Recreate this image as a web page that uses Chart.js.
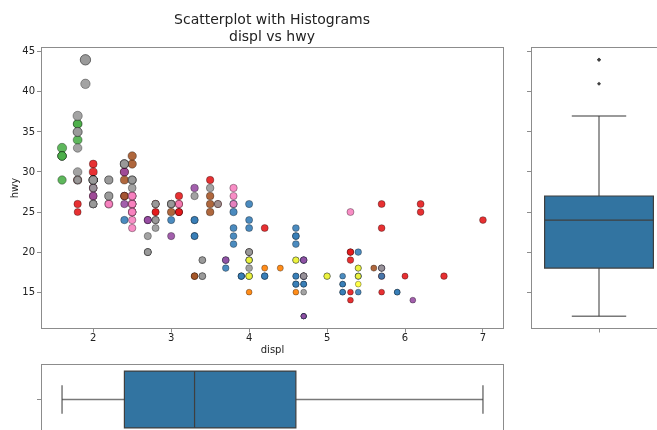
<!DOCTYPE html>
<html>
<head>
<meta charset="utf-8">
<script src="https://cdn.jsdelivr.net/npm/chart.js@4.4.1/dist/chart.umd.min.js"></script>
<style>
  html, body { margin: 0; padding: 0; background: #fff; width: 657px; height: 430px; overflow: hidden; }
  canvas { position: absolute; }
  #main { left: 0; top: 0; }
  #right { left: 500px; top: 0; }
  #bottom { left: 0; top: 340px; }
</style>
</head>
<body>
<canvas id="main" width="544" height="430"></canvas>
<canvas id="right" width="200" height="430"></canvas>
<canvas id="bottom" width="544" height="120"></canvas>
<script>
// mpg data, in file order, grouped by manufacturer
var MANUFACTURERS = ['audi', 'chevrolet', 'dodge', 'ford', 'honda', 'hyundai', 'jeep', 'land rover',
  'lincoln', 'mercury', 'nissan', 'pontiac', 'subaru', 'toyota', 'volkswagen'];
var ROWS_PER_MANUFACTURER = [18, 19, 37, 25, 9, 14, 8, 4, 3, 4, 13, 5, 14, 34, 27];

var DISPL = [
  1.8, 1.8, 2.0, 2.0, 2.8, 2.8, 3.1, 1.8, 1.8, 2.0, 2.0, 2.8, 2.8, 3.1, 3.1, 2.8, 3.1, 4.2,
  5.3, 5.3, 5.3, 5.7, 6.0, 5.7, 5.7, 6.2, 6.2, 7.0, 5.3, 5.3, 5.7, 6.5, 2.4, 2.4, 3.1, 3.5, 3.6,
  2.4, 3.0, 3.3, 3.3, 3.3, 3.3, 3.3, 3.8, 3.8, 3.8, 4.0, 3.7, 3.7, 3.9, 3.9, 4.7, 4.7, 4.7, 5.2, 5.2,
  3.9, 4.7, 4.7, 4.7, 5.2, 5.7, 5.9, 4.7, 4.7, 4.7, 4.7, 4.7, 4.7, 5.2, 5.2, 5.7, 5.9,
  4.6, 5.4, 5.4, 4.0, 4.0, 4.0, 4.0, 4.6, 5.0, 4.2, 4.2, 4.6, 4.6, 4.6, 5.4, 5.4,
  3.8, 3.8, 4.0, 4.0, 4.6, 4.6, 4.6, 4.6, 5.4,
  1.6, 1.6, 1.6, 1.6, 1.6, 1.8, 1.8, 1.8, 2.0,
  2.4, 2.4, 2.4, 2.4, 2.5, 2.5, 3.3, 2.0, 2.0, 2.0, 2.0, 2.7, 2.7, 2.7,
  3.0, 3.7, 4.0, 4.7, 4.7, 4.7, 5.7, 6.1,
  4.0, 4.2, 4.4, 4.6,
  5.4, 5.4, 5.4,
  4.0, 4.0, 4.6, 5.0,
  2.4, 2.4, 2.5, 2.5, 3.5, 3.5, 3.0, 3.0, 3.5, 3.3, 3.3, 4.0, 5.6,
  3.1, 3.8, 3.8, 3.8, 5.3,
  2.5, 2.5, 2.5, 2.5, 2.5, 2.5, 2.2, 2.2, 2.5, 2.5, 2.5, 2.5, 2.5, 2.5,
  2.7, 2.7, 3.4, 3.4, 4.0, 4.7, 2.2, 2.2, 2.4, 2.4, 3.0, 3.0, 3.5, 2.2, 2.2, 2.4, 2.4, 3.0, 3.0, 3.3,
  1.8, 1.8, 1.8, 1.8, 1.8, 4.7, 5.7, 2.7, 2.7, 2.7, 3.4, 3.4, 4.0, 4.0,
  2.0, 2.0, 2.0, 2.0, 2.8, 1.9, 2.0, 2.0, 2.0, 2.0, 2.5, 2.5, 2.8, 2.8,
  1.9, 1.9, 2.0, 2.0, 2.5, 2.5, 1.8, 1.8, 2.0, 2.0, 2.8, 2.8, 3.6
];

var HWY = [
  29, 29, 31, 30, 26, 26, 27, 26, 25, 28, 27, 25, 25, 25, 25, 24, 25, 23,
  20, 15, 20, 17, 17, 26, 23, 26, 25, 24, 19, 14, 15, 17, 27, 30, 26, 29, 26,
  24, 24, 22, 22, 24, 24, 17, 22, 21, 23, 23, 19, 18, 17, 17, 19, 19, 12, 17, 15,
  17, 17, 12, 17, 16, 18, 15, 16, 12, 17, 17, 16, 12, 15, 16, 17, 15,
  17, 17, 18, 17, 19, 17, 19, 19, 17, 17, 17, 16, 16, 17, 15, 17,
  26, 25, 26, 24, 21, 22, 23, 22, 20,
  33, 32, 32, 29, 32, 34, 36, 36, 29,
  26, 27, 30, 31, 26, 26, 28, 26, 29, 28, 27, 24, 24, 24,
  22, 19, 20, 17, 12, 19, 18, 14,
  15, 18, 18, 15,
  17, 16, 18,
  17, 19, 19, 17,
  29, 27, 31, 32, 27, 26, 26, 25, 25, 17, 17, 20, 18,
  26, 26, 27, 28, 25,
  25, 24, 27, 25, 26, 23, 26, 26, 26, 26, 25, 27, 25, 27,
  20, 20, 19, 17, 20, 17, 29, 27, 31, 31, 26, 26, 28, 27, 29, 31, 31, 26, 26, 27,
  30, 33, 35, 37, 35, 15, 18, 20, 20, 22, 17, 19, 18, 20,
  29, 26, 29, 29, 24, 44, 29, 26, 29, 29, 29, 29, 23, 24,
  44, 41, 29, 26, 28, 29, 29, 29, 28, 29, 26, 26, 26
];

// city mileage, used for marker size
var CTY = [
  18, 21, 20, 21, 16, 18, 18, 18, 16, 20, 19, 15, 17, 17, 15, 15, 17, 16,
  14, 11, 14, 13, 12, 16, 15, 16, 15, 15, 14, 11, 11, 14, 19, 22, 18, 18, 17,
  18, 17, 16, 16, 17, 17, 11, 15, 15, 16, 16, 15, 14, 13, 14, 14, 14, 9, 11, 11,
  13, 13, 9, 13, 11, 13, 11, 12, 9, 13, 13, 12, 9, 11, 11, 13, 11,
  11, 11, 12, 14, 15, 14, 13, 13, 13, 14, 14, 13, 13, 13, 11, 13,
  18, 18, 17, 16, 15, 15, 15, 15, 14,
  28, 24, 25, 23, 24, 26, 25, 24, 21,
  18, 18, 21, 21, 18, 18, 19, 19, 19, 20, 20, 17, 16, 17,
  17, 15, 15, 14, 9, 14, 13, 11,
  11, 12, 12, 11,
  11, 11, 12,
  14, 13, 13, 13,
  21, 19, 23, 23, 19, 19, 18, 19, 19, 14, 15, 14, 12,
  18, 16, 17, 18, 16,
  18, 18, 20, 19, 20, 18, 21, 19, 19, 19, 20, 20, 19, 20,
  15, 16, 15, 15, 16, 14, 21, 21, 21, 21, 18, 18, 19, 21, 21, 21, 22, 18, 18, 18,
  24, 24, 26, 28, 26, 11, 13, 15, 16, 17, 15, 15, 15, 16,
  21, 19, 21, 22, 17, 33, 21, 19, 22, 21, 21, 21, 16, 17,
  35, 29, 21, 19, 20, 20, 21, 18, 19, 21, 16, 18, 17
];

var X_TICKS = [2, 3, 4, 5, 6, 7];
var Y_TICKS = [15, 20, 25, 30, 35, 40, 45];
var X_LIMITS = [1.33, 7.27];
var Y_LIMITS = [10.4, 45.6];

// matplotlib Set1, indexed by category code / (n - 1)
var SET1 = ['#e41a1c', '#377eb8', '#4daf4a', '#984ea3', '#ff7f00', '#ffff33', '#a65628', '#f781bf', '#999999'];
var EDGE = '#8c8c8c';
var TEXT = '#222222';
var BOX_FILL = '#3274a1';
var BOX_LINE = '#3f3f3f';

Chart.defaults.font.family = 'DejaVu Sans';
Chart.defaults.color = TEXT;

var codes = [];
ROWS_PER_MANUFACTURER.forEach(function (n, code) {
  for (var i = 0; i < n; i++) codes.push(code);
});
var pointColors = codes.map(function (c) {
  var idx = Math.min(SET1.length - 1, Math.floor(c / (MANUFACTURERS.length - 1) * SET1.length));
  return SET1[idx] + 'e6';
});
var pointRadii = CTY.map(function (c) { return 0.88 * Math.sqrt(c); });
var points = DISPL.map(function (x, i) { return { x: x, y: HWY[i] }; });

function fixedSize(px) {
  return function (scale) {
    if (scale.isHorizontal()) scale.height = px; else scale.width = px;
  };
}
function setTicks(values) {
  return function (scale) { scale.ticks = values.map(function (v) { return { value: v }; }); };
}
function blank() { return ''; }

var framePlugin = {
  id: 'frame',
  afterDatasetsDraw: function (chart) {
    var a = chart.chartArea, ctx = chart.ctx;
    ctx.save();
    ctx.strokeStyle = EDGE;
    ctx.lineWidth = 1;
    ctx.strokeRect(Math.round(a.left) + 0.5, Math.round(a.top) + 0.5,
      Math.round(a.right - a.left) - 1, Math.round(a.bottom - a.top) - 1);
    ctx.restore();
  }
};

function quantile(sorted, p) {
  var pos = (sorted.length - 1) * p, lo = Math.floor(pos), hi = Math.ceil(pos);
  return sorted[lo] + (sorted[hi] - sorted[lo]) * (pos - lo);
}
function boxStats(values) {
  var s = values.slice().sort(function (a, b) { return a - b; });
  var q1 = quantile(s, 0.25), med = quantile(s, 0.5), q3 = quantile(s, 0.75), iqr = q3 - q1;
  var loF = q1 - 1.5 * iqr, hiF = q3 + 1.5 * iqr;
  var inside = s.filter(function (v) { return v >= loF && v <= hiF; });
  return {
    q1: q1, med: med, q3: q3, lo: inside[0], hi: inside[inside.length - 1],
    out: s.filter(function (v) { return v < loF || v > hiF; })
  };
}

// seaborn-style box: box spans 0.8 of the category, caps half of that
function boxPlugin(stats, vertical) {
  return {
    id: 'box',
    beforeDatasetsDraw: function (chart) {
      var ctx = chart.ctx;
      var vs = chart.scales[vertical ? 'y' : 'x'];
      var cs = chart.scales[vertical ? 'x' : 'y'];
      function P(v, c) {
        return vertical ? [cs.getPixelForValue(c), vs.getPixelForValue(v)]
                        : [vs.getPixelForValue(v), cs.getPixelForValue(c)];
      }
      function line(v0, c0, v1, c1) {
        var a = P(v0, c0), b = P(v1, c1);
        ctx.beginPath(); ctx.moveTo(a[0], a[1]); ctx.lineTo(b[0], b[1]); ctx.stroke();
      }
      ctx.save();
      ctx.strokeStyle = BOX_LINE;
      ctx.globalAlpha = 0.7;
      ctx.lineWidth = 1.5;
      line(stats.q3, 0, stats.hi, 0);
      line(stats.q1, 0, stats.lo, 0);
      line(stats.hi, -0.2, stats.hi, 0.2);
      line(stats.lo, -0.2, stats.lo, 0.2);
      ctx.globalAlpha = 1;
      var a = P(stats.q1, -0.4), b = P(stats.q3, 0.4);
      ctx.fillStyle = BOX_FILL;
      ctx.lineWidth = 1.2;
      ctx.beginPath();
      ctx.rect(Math.min(a[0], b[0]), Math.min(a[1], b[1]), Math.abs(b[0] - a[0]), Math.abs(b[1] - a[1]));
      ctx.fill();
      ctx.stroke();
      line(stats.med, -0.4, stats.med, 0.4);
      ctx.restore();
    }
  };
}

function axis(extra) {
  var base = {
    type: 'linear',
    grid: { drawOnChartArea: false, drawTicks: true, tickLength: 4, color: EDGE, lineWidth: 1 },
    border: { display: false },
    ticks: { font: { size: 10 }, color: TEXT, padding: 2, autoSkip: false, maxRotation: 0 }
  };
  return Object.assign(base, extra);
}

var common = {
  responsive: false,
  animation: false,
  devicePixelRatio: 1,
  events: []
};

// main scatter
new Chart(document.getElementById('main'), {
  type: 'scatter',
  data: {
    datasets: [{
      data: points,
      backgroundColor: pointColors,
      borderColor: 'rgba(0,0,0,0.55)',
      borderWidth: 0.6,
      pointRadius: pointRadii,
      pointHoverRadius: pointRadii
    }]
  },
  options: Object.assign({}, common, {
    layout: { padding: { left: 0, right: 0, top: 0, bottom: 71 } },
    plugins: {
      legend: { display: false },
      tooltip: { enabled: false },
      title: {
        display: true,
        text: ['Scatterplot with Histograms', 'displ vs hwy'],
        font: { size: 14, weight: 'normal', lineHeight: 1.2 },
        color: TEXT,
        padding: { top: 12, bottom: 1.4 }
      }
    },
    scales: {
      x: axis({
        min: X_LIMITS[0], max: X_LIMITS[1],
        afterBuildTicks: setTicks(X_TICKS),
        afterFit: fixedSize(30),
        grid: { drawOnChartArea: false, tickLength: 3.5, color: EDGE },
        ticks: { font: { size: 10 }, color: TEXT, padding: 0, autoSkip: false, maxRotation: 0 },
        title: { display: true, text: 'displ', font: { size: 10 }, color: TEXT, padding: { top: 0, bottom: 2.5 } }
      }),
      y: axis({
        min: Y_LIMITS[0], max: Y_LIMITS[1],
        afterBuildTicks: setTicks(Y_TICKS),
        afterFit: fixedSize(41),
        title: { display: true, text: 'hwy', font: { size: 10 }, color: TEXT, padding: { top: 9.3, bottom: 0 } }
      }),
      gutter: {
        type: 'linear', axis: 'y', position: 'right',
        afterFit: fixedSize(40),
        grid: { display: false }, ticks: { display: false }, border: { display: false }
      }
    }
  }),
  plugins: [framePlugin]
});

// right: box plot of hwy
var hwyStats = boxStats(HWY);
new Chart(document.getElementById('right'), {
  type: 'scatter',
  data: {
    datasets: [{
      data: hwyStats.out.map(function (v) { return { x: 0, y: v }; }),
      pointStyle: 'rectRot',
      pointRadius: 2,
      backgroundColor: BOX_LINE,
      borderColor: BOX_LINE,
      borderWidth: 0
    }]
  },
  options: Object.assign({}, common, {
    layout: { padding: { left: 0, right: 33, top: 47, bottom: 81 } },
    plugins: { legend: { display: false }, tooltip: { enabled: false } },
    scales: {
      x: axis({
        min: -0.5, max: 0.5,
        afterBuildTicks: setTicks([0]),
        afterFit: fixedSize(20),
        ticks: { callback: blank, font: { size: 10 }, padding: 0 },
        grid: { drawOnChartArea: false, tickLength: 3.5, color: EDGE }
      }),
      y: axis({
        min: Y_LIMITS[0], max: Y_LIMITS[1],
        afterBuildTicks: setTicks(Y_TICKS),
        afterFit: fixedSize(31),
        ticks: { callback: blank, font: { size: 10 }, padding: 0 }
      })
    }
  }),
  plugins: [framePlugin, boxPlugin(hwyStats, true)]
});

// bottom: box plot of displ
var displStats = boxStats(DISPL);
new Chart(document.getElementById('bottom'), {
  type: 'scatter',
  data: {
    datasets: [{
      data: displStats.out.map(function (v) { return { x: v, y: 0 }; }),
      pointStyle: 'rectRot',
      pointRadius: 2,
      backgroundColor: BOX_LINE,
      borderWidth: 0
    }]
  },
  options: Object.assign({}, common, {
    layout: { padding: { left: 0, right: 40, top: 24, bottom: 0 } },
    plugins: { legend: { display: false }, tooltip: { enabled: false } },
    scales: {
      x: axis({
        min: X_LIMITS[0], max: X_LIMITS[1],
        afterBuildTicks: setTicks(X_TICKS),
        afterFit: fixedSize(25),
        ticks: { callback: blank, font: { size: 10 }, padding: 0 }
      }),
      y: axis({
        min: -0.5, max: 0.5,
        afterBuildTicks: setTicks([0]),
        afterFit: fixedSize(41),
        ticks: { callback: blank, font: { size: 10 }, padding: 0 }
      })
    }
  }),
  plugins: [framePlugin, boxPlugin(displStats, false)]
});
</script>
</body>
</html>
